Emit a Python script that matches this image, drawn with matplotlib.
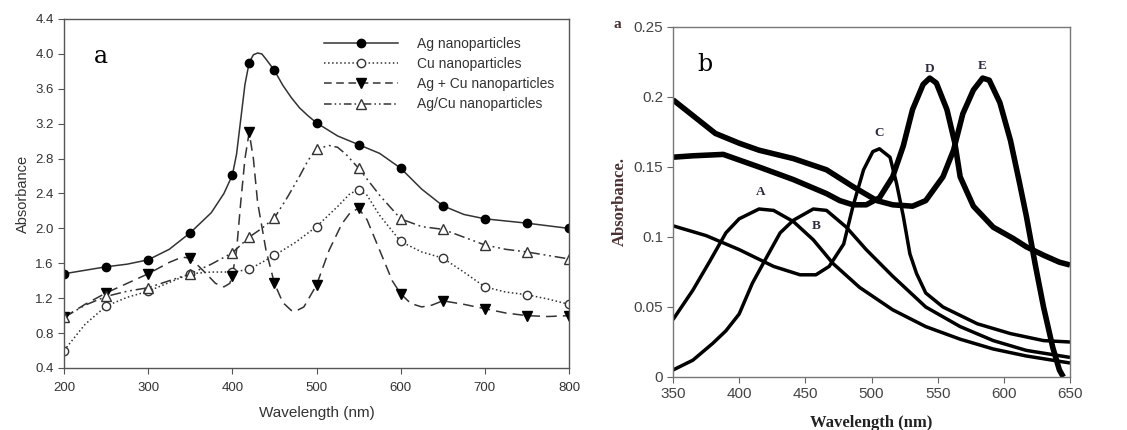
import numpy as np
import matplotlib.pyplot as plt

# ---- panel a : measured points (markers) ----
wl_pts = [200, 250, 300, 350, 400, 420, 450, 500, 550, 600, 650, 700, 750, 800]
ag_pts = [1.48, 1.56, 1.64, 1.95, 2.61, 3.90, 3.81, 3.21, 2.96, 2.69, 2.26, 2.11, 2.06, 2.00]
cu_pts = [0.60, 1.11, 1.28, 1.48, 1.50, 1.53, 1.69, 2.02, 2.44, 1.85, 1.66, 1.33, 1.24, 1.13]
agcu_mix_pts = [0.98, 1.26, 1.48, 1.66, 1.46, 3.10, 1.37, 1.35, 2.23, 1.25, 1.17, 1.08, 1.00, 1.00]
agcu_alloy_pts = [0.98, 1.22, 1.32, 1.48, 1.72, 1.90, 2.12, 2.91, 2.69, 2.11, 1.99, 1.81, 1.73, 1.65]

# ---- panel a : smooth fitted curves ----
ag_x = [200, 225, 250, 275, 300, 325, 350, 375, 390, 400, 405, 410, 415, 420, 425, 430, 435, 440, 450,
        460, 470, 480, 490, 500, 525, 550, 575, 600, 625, 650, 675, 700, 750, 800]
ag_y = [1.48, 1.52, 1.56, 1.59, 1.64, 1.76, 1.95, 2.18, 2.40, 2.61, 2.85, 3.25, 3.65, 3.90, 3.99, 4.01,
        4.00, 3.94, 3.81, 3.64, 3.50, 3.38, 3.29, 3.21, 3.06, 2.96, 2.86, 2.69, 2.45, 2.26, 2.16, 2.11, 2.06, 2.00]

cu_x = [200, 225, 250, 275, 300, 325, 350, 375, 400, 420, 450, 475, 500, 525, 540, 550, 560, 575,
        600, 625, 650, 675, 700, 725, 750, 775, 800]
cu_y = [0.60, 0.90, 1.11, 1.21, 1.28, 1.38, 1.48, 1.50, 1.50, 1.53, 1.69, 1.84, 2.02, 2.25, 2.40, 2.44,
        2.38, 2.15, 1.85, 1.73, 1.66, 1.50, 1.33, 1.27, 1.24, 1.19, 1.13]

mix_x = [200, 225, 250, 275, 300, 325, 340, 350, 365, 380, 390, 397, 400, 405, 410, 415, 420, 425, 430,
         440, 450, 460, 470, 475, 485, 500, 515, 530, 540, 550, 560, 575, 590, 600, 612, 625, 637, 650,
         675, 700, 725, 750, 775, 800]
mix_y = [0.98, 1.13, 1.26, 1.37, 1.48, 1.61, 1.67, 1.66, 1.52, 1.37, 1.33, 1.37, 1.46, 1.75, 2.30, 2.80,
         3.10, 2.80, 2.30, 1.75, 1.37, 1.15, 1.06, 1.05, 1.10, 1.35, 1.75, 2.05, 2.18, 2.23, 2.10, 1.75,
         1.40, 1.25, 1.14, 1.10, 1.12, 1.17, 1.13, 1.08, 1.03, 1.00, 0.99, 1.00]

alloy_x = [200, 225, 250, 275, 300, 325, 350, 375, 400, 420, 435, 450, 465, 480, 490, 500, 515, 525,
           535, 550, 575, 600, 625, 650, 675, 700, 725, 750, 775, 800]
alloy_y = [0.98, 1.12, 1.22, 1.28, 1.32, 1.40, 1.48, 1.59, 1.72, 1.90, 2.00, 2.12, 2.35, 2.60, 2.78,
           2.91, 2.95, 2.93, 2.85, 2.69, 2.38, 2.11, 2.02, 1.99, 1.90, 1.81, 1.76, 1.73, 1.69, 1.65]

# ---- panel b : spectra A-E ----
a_x = [350, 365, 378, 390, 400, 415, 426, 441, 456, 471, 491, 516, 541, 567, 592, 617, 650]
a_y = [0.041, 0.062, 0.083, 0.103, 0.113, 0.120, 0.119, 0.111, 0.098, 0.081, 0.064, 0.048, 0.036,
       0.027, 0.020, 0.015, 0.010]
b_x = [350, 365, 380, 390, 400, 410, 421, 431, 441, 456, 466, 481, 496, 516, 541, 567, 592, 617, 650]
b_y = [0.005, 0.012, 0.024, 0.033, 0.045, 0.067, 0.086, 0.103, 0.112, 0.120, 0.119, 0.107, 0.091,
       0.072, 0.050, 0.036, 0.026, 0.019, 0.014]
c_x = [350, 375, 400, 426, 446, 458, 468, 479, 486, 494, 501, 506, 514, 519, 524, 529, 534, 541, 554,
       580, 605, 630, 650]
c_y = [0.108, 0.101, 0.091, 0.079, 0.073, 0.073, 0.079, 0.095, 0.122, 0.148, 0.161, 0.163, 0.157,
       0.138, 0.115, 0.088, 0.074, 0.060, 0.050, 0.038, 0.031, 0.026, 0.025]
d_x = [350, 365, 388, 400, 415, 441, 466, 476, 486, 496, 506, 516, 524, 531, 539, 544, 549, 557, 563,
       567, 577, 592, 607, 617, 630, 642, 650]
d_y = [0.157, 0.158, 0.159, 0.155, 0.150, 0.141, 0.131, 0.126, 0.123, 0.123, 0.128, 0.143, 0.165,
       0.191, 0.209, 0.2135, 0.210, 0.191, 0.167, 0.143, 0.122, 0.107, 0.099, 0.093, 0.087, 0.082, 0.080]
e_x = [350, 382, 400, 415, 441, 466, 486, 504, 516, 531, 541, 554, 562, 569, 577, 584, 589, 597, 605,
       612, 617, 624, 630, 637, 642, 645]
e_y = [0.198, 0.174, 0.167, 0.162, 0.156, 0.148, 0.136, 0.126, 0.123, 0.122, 0.126, 0.143, 0.162,
       0.188, 0.205, 0.2135, 0.212, 0.196, 0.169, 0.138, 0.115, 0.079, 0.050, 0.021, 0.005, 0.0]
peak_labels = ['A', 'B', 'C', 'D', 'E']
label_x = [416, 458, 506, 544, 584]
label_y = [0.132, 0.108, 0.174, 0.220, 0.222]

fig = plt.figure(figsize=(11.27, 4.3), dpi=100)
sans = ['Liberation Sans', 'DejaVu Sans']
serif = ['DejaVu Serif']
tserif = ['Liberation Serif', 'DejaVu Serif']

# ---------------- panel a ----------------
ax1 = fig.add_axes([64 / 1127, 62 / 430, 505 / 1127, 349 / 430])
lc = '#333333'
ax1.plot(ag_x, ag_y, '-', color=lc, lw=1.1)
ax1.plot(cu_x, cu_y, ':', color=lc, lw=1.1)
ax1.plot(mix_x, mix_y, color=lc, lw=1.1, dashes=(7, 4))
ax1.plot(alloy_x, alloy_y, color=lc, lw=1.1, dashes=(7, 2.5, 1.2, 2.5, 1.2, 2.5))
ax1.plot(wl_pts, ag_pts, 'o', color='black', ms=6)
ax1.plot(wl_pts, cu_pts, 'o', mfc='white', mec=lc, mew=1, ms=6)
ax1.plot(wl_pts, agcu_mix_pts, 'v', color='black', ms=6.5)
ax1.plot(wl_pts, agcu_alloy_pts, '^', mfc='white', mec=lc, mew=1, ms=6.5)

# legend handles
h1, = ax1.plot([], [], '-o', color=lc, mfc='black', mec='black', lw=1.1, ms=6)
h2, = ax1.plot([], [], ':o', color=lc, mfc='white', mec=lc, lw=1.1, ms=6)
h3, = ax1.plot([], [], '-v', color=lc, mfc='black', mec='black', lw=1.1, ms=6.5, dashes=(5, 3))
h4, = ax1.plot([], [], '-^', color=lc, mfc='white', mec=lc, lw=1.1, ms=6.5,
               dashes=(5, 2, 1, 2, 1, 2))
ax1.legend([h1, h2, h3, h4],
           ['Ag nanoparticles', 'Cu nanoparticles', 'Ag + Cu nanoparticles', 'Ag/Cu nanoparticles'],
           loc='upper left', bbox_to_anchor=(0.49, 0.985), frameon=False, handlelength=5.3,
           handletextpad=1.4, labelspacing=0.45, prop={'family': sans, 'size': 10},
           labelcolor='#333333')

ax1.set_xlim(200, 800)
ax1.set_ylim(0.4, 4.4)
ax1.set_xticks(range(200, 801, 100))
ax1.set_yticks(np.arange(0.4, 4.41, 0.4))
ax1.set_yticklabels(['%.1f' % v for v in np.arange(0.4, 4.41, 0.4)])
ax1.tick_params(direction='out', length=4, color='#555555', labelsize=9.5, labelcolor='#333333',
                top=False, right=False)
ax1.tick_params(axis='x', pad=6)
for lab in ax1.get_xticklabels() + ax1.get_yticklabels():
    lab.set_family(sans)
for s in ax1.spines.values():
    s.set_color('#555555')
    s.set_linewidth(1.0)
ax1.set_xlabel('Wavelength (nm)', family=sans, fontsize=11, color='#333333', labelpad=9)
ax1.set_ylabel('Absorbance', family=sans, fontsize=10.5, color='#333333', labelpad=4)
ax1.text(244, 3.97, 'a', family=serif, fontsize=17, ha='center', va='center')

# ---------------- panel b ----------------
ax2 = fig.add_axes([673 / 1127, 53 / 430, 397 / 1127, 350 / 430])
ax2.plot(a_x, a_y, color='black', lw=2.5, solid_capstyle='butt')
ax2.plot(b_x, b_y, color='black', lw=2.5, solid_capstyle='butt')
ax2.plot(c_x, c_y, color='black', lw=2.5, solid_capstyle='butt')
ax2.plot(d_x, d_y, color='black', lw=4.0, solid_capstyle='butt')
ax2.plot(e_x, e_y, color='black', lw=4.0, solid_capstyle='butt')
for t, x, y in zip(peak_labels, label_x, label_y):
    ax2.text(x, y, t, family=tserif, fontweight='bold', fontsize=9.5,
             color='#2a2a40', ha='center', va='center')
ax2.text(374, 0.223, 'b', family=serif, fontsize=17, ha='center', va='center')

ax2.set_xlim(350, 650)
ax2.set_ylim(0, 0.25)
ax2.set_xticks(range(350, 651, 50))
ax2.set_yticks([0, 0.05, 0.1, 0.15, 0.2, 0.25])
ax2.set_yticklabels(['0', '0.05', '0.1', '0.15', '0.2', '0.25'])
ax2.tick_params(direction='out', length=4, color='#666666', labelsize=11, labelcolor='#444444',
                pad=3)
for lab in ax2.get_xticklabels() + ax2.get_yticklabels():
    lab.set_family(sans)
for s in ax2.spines.values():
    s.set_color('#777777')
    s.set_linewidth(1.0)
ax2.set_xlabel('Wavelength (nm)', family=tserif, fontweight='bold',
               fontsize=12, color='#222222', labelpad=10)
ax2.set_ylabel('Absorbance.', family=tserif, fontweight='bold',
               fontsize=12, color='#4a3030', labelpad=4)
fig.text(617 / 1127, 1 - 25 / 430, 'a', family=tserif,
         fontweight='bold', fontsize=11, color='#4a3030', ha='center', va='center')

fig.savefig('out.png', dpi=100)
